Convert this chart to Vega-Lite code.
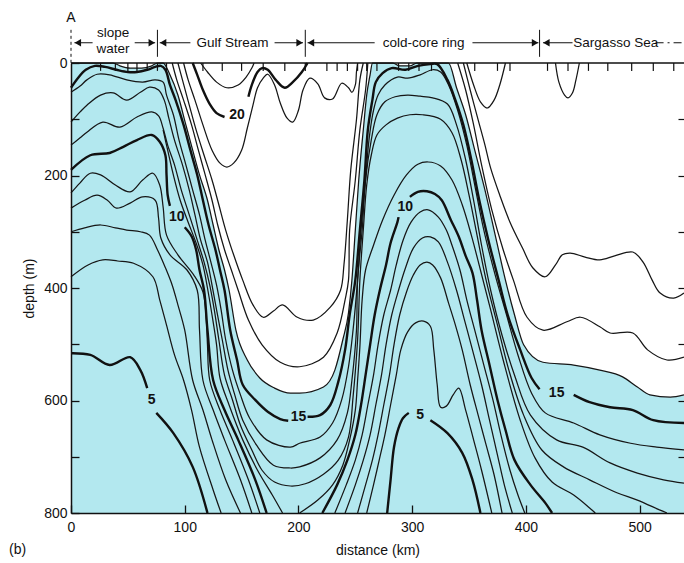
{
"$schema": "https://vega.github.io/schema/vega-lite/v6.json",
"width": 613, "height": 450,
"autosize": {"type": "none"},
"padding": {"left": 71, "top": 63, "right": 0, "bottom": 50},
"background": "white",
"config": {"view": {"stroke": null}, "text": {"font": "Liberation Sans"}, "axis": {"labelFont": "Liberation Sans", "titleFont": "Liberation Sans"}},
"resolve": {"axis": {"x": "independent", "y": "independent"}},
"datasets": {
"shade": [{"d":0,"z":0},{"d":37,"z":0},{"d":43,"z":5},{"d":52,"z":9},{"d":62,"z":9},{"d":71,"z":5},{"d":76,"z":0},{"d":81,"z":0},{"d":87,"z":21},{"d":94,"z":57},{"d":101,"z":110},{"d":107,"z":155},{"d":113,"z":199},{"d":120,"z":244},{"d":125,"z":288},{"d":130,"z":332},{"d":135,"z":368},{"d":139,"z":404},{"d":145,"z":475},{"d":155,"z":528},{"d":166,"z":560},{"d":179,"z":578},{"d":193,"z":587},{"d":201,"z":587},{"d":222,"z":576},{"d":232,"z":546},{"d":239,"z":492},{"d":244,"z":444},{"d":247,"z":386},{"d":250,"z":297},{"d":253,"z":208},{"d":257,"z":119},{"d":260,"z":57},{"d":263,"z":21},{"d":265,"z":0},{"d":283,"z":0},{"d":289,"z":5},{"d":298,"z":5},{"d":304,"z":0},{"d":332,"z":0},{"d":339,"z":44},{"d":347,"z":92},{"d":355,"z":155},{"d":364,"z":226},{"d":373,"z":306},{"d":382,"z":386},{"d":390,"z":448},{"d":398,"z":501},{"d":415,"z":532},{"d":442,"z":537},{"d":465,"z":546},{"d":485,"z":558},{"d":498,"z":576},{"d":509,"z":590},{"d":527,"z":594},{"d":539,"z":590}],
"c": [
{"s":"5a","t":5,"d":0,"z":516},{"s":"5a","t":5,"d":17,"z":519},{"s":"5a","t":5,"d":34,"z":537},{"s":"5a","t":5,"d":52,"z":523},{"s":"5a","t":5,"d":61,"z":546},{"s":"5a","t":5,"d":67,"z":578},
{"s":"5b","t":5,"d":75,"z":622},{"s":"5b","t":5,"d":90,"z":658},{"s":"5b","t":5,"d":107,"z":718},{"s":"5b","t":5,"d":120,"z":800},
{"s":"5c","t":5,"d":278,"z":800},{"s":"5c","t":5,"d":281,"z":741},{"s":"5c","t":5,"d":284,"z":683},{"s":"5c","t":5,"d":288,"z":649},{"s":"5c","t":5,"d":292,"z":631},{"s":"5c","t":5,"d":297,"z":622},
{"s":"5d","t":5,"d":316,"z":635},{"s":"5d","t":5,"d":331,"z":658},{"s":"5d","t":5,"d":344,"z":693},{"s":"5d","t":5,"d":353,"z":741},{"s":"5d","t":5,"d":360,"z":800},
{"s":"6a","t":6,"d":0,"z":380},{"s":"6a","t":6,"d":15,"z":359},{"s":"6a","t":6,"d":28,"z":350},{"s":"6a","t":6,"d":41,"z":352},{"s":"6a","t":6,"d":55,"z":356},{"s":"6a","t":6,"d":72,"z":380},{"s":"6a","t":6,"d":78,"z":421},{"s":"6a","t":6,"d":84,"z":466},{"s":"6a","t":6,"d":91,"z":519},{"s":"6a","t":6,"d":99,"z":564},{"s":"6a","t":6,"d":106,"z":617},{"s":"6a","t":6,"d":113,"z":683},{"s":"6a","t":6,"d":125,"z":759},{"s":"6a","t":6,"d":132,"z":800},
{"s":"6b","t":6,"d":260,"z":800},{"s":"6b","t":6,"d":266,"z":750},{"s":"6b","t":6,"d":271,"z":706},{"s":"6b","t":6,"d":276,"z":661},{"s":"6b","t":6,"d":281,"z":608},{"s":"6b","t":6,"d":286,"z":555},{"s":"6b","t":6,"d":290,"z":510},{"s":"6b","t":6,"d":296,"z":478},{"s":"6b","t":6,"d":303,"z":462},{"s":"6b","t":6,"d":310,"z":459},{"s":"6b","t":6,"d":316,"z":468},{"s":"6b","t":6,"d":319,"z":510},{"s":"6b","t":6,"d":322,"z":572},{"s":"6b","t":6,"d":325,"z":612},{"s":"6b","t":6,"d":330,"z":610},{"s":"6b","t":6,"d":336,"z":590},{"s":"6b","t":6,"d":341,"z":578},{"s":"6b","t":6,"d":347,"z":617},{"s":"6b","t":6,"d":354,"z":670},{"s":"6b","t":6,"d":361,"z":724},{"s":"6b","t":6,"d":370,"z":800},
{"s":"7a","t":7,"d":0,"z":300},{"s":"7a","t":7,"d":12,"z":293},{"s":"7a","t":7,"d":26,"z":288},{"s":"7a","t":7,"d":39,"z":293},{"s":"7a","t":7,"d":49,"z":297},{"s":"7a","t":7,"d":61,"z":300},{"s":"7a","t":7,"d":69,"z":306},{"s":"7a","t":7,"d":76,"z":332},{"s":"7a","t":7,"d":83,"z":364},{"s":"7a","t":7,"d":89,"z":395},{"s":"7a","t":7,"d":94,"z":430},{"s":"7a","t":7,"d":100,"z":475},{"s":"7a","t":7,"d":107,"z":564},{"s":"7a","t":7,"d":116,"z":617},{"s":"7a","t":7,"d":124,"z":670},{"s":"7a","t":7,"d":136,"z":741},{"s":"7a","t":7,"d":149,"z":800},
{"s":"7b","t":7,"d":252,"z":800},{"s":"7b","t":7,"d":259,"z":750},{"s":"7b","t":7,"d":265,"z":706},{"s":"7b","t":7,"d":270,"z":661},{"s":"7b","t":7,"d":275,"z":608},{"s":"7b","t":7,"d":280,"z":555},{"s":"7b","t":7,"d":284,"z":501},{"s":"7b","t":7,"d":289,"z":448},{"s":"7b","t":7,"d":295,"z":407},{"s":"7b","t":7,"d":301,"z":377},{"s":"7b","t":7,"d":307,"z":359},{"s":"7b","t":7,"d":313,"z":354},{"s":"7b","t":7,"d":318,"z":359},{"s":"7b","t":7,"d":325,"z":382},{"s":"7b","t":7,"d":332,"z":427},{"s":"7b","t":7,"d":338,"z":466},{"s":"7b","t":7,"d":344,"z":510},{"s":"7b","t":7,"d":351,"z":572},{"s":"7b","t":7,"d":358,"z":626},{"s":"7b","t":7,"d":365,"z":679},{"s":"7b","t":7,"d":372,"z":732},{"s":"7b","t":7,"d":379,"z":800},
{"s":"8a","t":8,"d":0,"z":258},{"s":"8a","t":8,"d":12,"z":244},{"s":"8a","t":8,"d":23,"z":235},{"s":"8a","t":8,"d":32,"z":244},{"s":"8a","t":8,"d":40,"z":258},{"s":"8a","t":8,"d":52,"z":249},{"s":"8a","t":8,"d":63,"z":238},{"s":"8a","t":8,"d":74,"z":244},{"s":"8a","t":8,"d":77,"z":276},{"s":"8a","t":8,"d":79,"z":311},{"s":"8a","t":8,"d":87,"z":341},{"s":"8a","t":8,"d":102,"z":368},{"s":"8a","t":8,"d":111,"z":404},{"s":"8a","t":8,"d":113,"z":475},{"s":"8a","t":8,"d":116,"z":564},{"s":"8a","t":8,"d":125,"z":617},{"s":"8a","t":8,"d":135,"z":670},{"s":"8a","t":8,"d":149,"z":741},{"s":"8a","t":8,"d":159,"z":800},
{"s":"8b","t":8,"d":241,"z":800},{"s":"8b","t":8,"d":250,"z":750},{"s":"8b","t":8,"d":257,"z":706},{"s":"8b","t":8,"d":263,"z":661},{"s":"8b","t":8,"d":268,"z":608},{"s":"8b","t":8,"d":273,"z":555},{"s":"8b","t":8,"d":277,"z":501},{"s":"8b","t":8,"d":282,"z":448},{"s":"8b","t":8,"d":288,"z":404},{"s":"8b","t":8,"d":294,"z":365},{"s":"8b","t":8,"d":301,"z":329},{"s":"8b","t":8,"d":309,"z":311},{"s":"8b","t":8,"d":316,"z":309},{"s":"8b","t":8,"d":323,"z":318},{"s":"8b","t":8,"d":331,"z":354},{"s":"8b","t":8,"d":339,"z":404},{"s":"8b","t":8,"d":346,"z":457},{"s":"8b","t":8,"d":353,"z":510},{"s":"8b","t":8,"d":361,"z":572},{"s":"8b","t":8,"d":368,"z":635},{"s":"8b","t":8,"d":375,"z":697},{"s":"8b","t":8,"d":381,"z":750},{"s":"8b","t":8,"d":388,"z":800},
{"s":"9a","t":9,"d":0,"z":231},{"s":"9a","t":9,"d":8,"z":213},{"s":"9a","t":9,"d":17,"z":196},{"s":"9a","t":9,"d":26,"z":199},{"s":"9a","t":9,"d":39,"z":217},{"s":"9a","t":9,"d":52,"z":229},{"s":"9a","t":9,"d":63,"z":208},{"s":"9a","t":9,"d":72,"z":196},{"s":"9a","t":9,"d":78,"z":217},{"s":"9a","t":9,"d":81,"z":256},{"s":"9a","t":9,"d":84,"z":306},{"s":"9a","t":9,"d":94,"z":341},{"s":"9a","t":9,"d":108,"z":377},{"s":"9a","t":9,"d":116,"z":407},{"s":"9a","t":9,"d":119,"z":457},{"s":"9a","t":9,"d":120,"z":501},{"s":"9a","t":9,"d":122,"z":564},{"s":"9a","t":9,"d":131,"z":617},{"s":"9a","t":9,"d":142,"z":670},{"s":"9a","t":9,"d":156,"z":741},{"s":"9a","t":9,"d":166,"z":800},
{"s":"9b","t":9,"d":232,"z":800},{"s":"9b","t":9,"d":242,"z":750},{"s":"9b","t":9,"d":250,"z":706},{"s":"9b","t":9,"d":256,"z":661},{"s":"9b","t":9,"d":261,"z":608},{"s":"9b","t":9,"d":266,"z":555},{"s":"9b","t":9,"d":270,"z":501},{"s":"9b","t":9,"d":275,"z":448},{"s":"9b","t":9,"d":281,"z":404},{"s":"9b","t":9,"d":286,"z":359},{"s":"9b","t":9,"d":292,"z":315},{"s":"9b","t":9,"d":299,"z":283},{"s":"9b","t":9,"d":307,"z":265},{"s":"9b","t":9,"d":314,"z":261},{"s":"9b","t":9,"d":323,"z":274},{"s":"9b","t":9,"d":330,"z":297},{"s":"9b","t":9,"d":335,"z":324},{"s":"9b","t":9,"d":342,"z":368},{"s":"9b","t":9,"d":348,"z":421},{"s":"9b","t":9,"d":355,"z":475},{"s":"9b","t":9,"d":363,"z":537},{"s":"9b","t":9,"d":371,"z":599},{"s":"9b","t":9,"d":378,"z":661},{"s":"9b","t":9,"d":386,"z":724},{"s":"9b","t":9,"d":393,"z":768},{"s":"9b","t":9,"d":399,"z":800},
{"s":"10a","t":10,"d":0,"z":190},{"s":"10a","t":10,"d":17,"z":164},{"s":"10a","t":10,"d":34,"z":160},{"s":"10a","t":10,"d":46,"z":149},{"s":"10a","t":10,"d":58,"z":137},{"s":"10a","t":10,"d":71,"z":128},{"s":"10a","t":10,"d":78,"z":140},{"s":"10a","t":10,"d":83,"z":164},{"s":"10a","t":10,"d":84,"z":199},{"s":"10a","t":10,"d":85,"z":235},{"s":"10a","t":10,"d":87,"z":254},
{"s":"10b","t":10,"d":100,"z":292},{"s":"10b","t":10,"d":106,"z":308},{"s":"10b","t":10,"d":110,"z":332},{"s":"10b","t":10,"d":113,"z":368},{"s":"10b","t":10,"d":117,"z":404},{"s":"10b","t":10,"d":120,"z":475},{"s":"10b","t":10,"d":125,"z":564},{"s":"10b","t":10,"d":135,"z":617},{"s":"10b","t":10,"d":147,"z":670},{"s":"10b","t":10,"d":162,"z":741},{"s":"10b","t":10,"d":172,"z":800},
{"s":"10c","t":10,"d":221,"z":800},{"s":"10c","t":10,"d":234,"z":750},{"s":"10c","t":10,"d":243,"z":706},{"s":"10c","t":10,"d":250,"z":661},{"s":"10c","t":10,"d":255,"z":608},{"s":"10c","t":10,"d":259,"z":555},{"s":"10c","t":10,"d":263,"z":501},{"s":"10c","t":10,"d":267,"z":448},{"s":"10c","t":10,"d":272,"z":400},{"s":"10c","t":10,"d":277,"z":359},{"s":"10c","t":10,"d":281,"z":320},{"s":"10c","t":10,"d":287,"z":283},{"s":"10c","t":10,"d":288,"z":274},
{"s":"10d","t":10,"d":298,"z":238},{"s":"10d","t":10,"d":305,"z":229},{"s":"10d","t":10,"d":313,"z":228},{"s":"10d","t":10,"d":320,"z":233},{"s":"10d","t":10,"d":326,"z":244},{"s":"10d","t":10,"d":334,"z":279},{"s":"10d","t":10,"d":341,"z":309},{"s":"10d","t":10,"d":347,"z":343},{"s":"10d","t":10,"d":353,"z":373},{"s":"10d","t":10,"d":357,"z":421},{"s":"10d","t":10,"d":361,"z":475},{"s":"10d","t":10,"d":368,"z":537},{"s":"10d","t":10,"d":375,"z":599},{"s":"10d","t":10,"d":382,"z":652},{"s":"10d","t":10,"d":390,"z":706},{"s":"10d","t":10,"d":404,"z":750},{"s":"10d","t":10,"d":417,"z":782},{"s":"10d","t":10,"d":423,"z":800},
{"s":"11a","t":11,"d":81,"z":119},{"s":"11a","t":11,"d":85,"z":155},{"s":"11a","t":11,"d":90,"z":199},{"s":"11a","t":11,"d":96,"z":244},{"s":"11a","t":11,"d":103,"z":283},{"s":"11a","t":11,"d":110,"z":320},{"s":"11a","t":11,"d":116,"z":359},{"s":"11a","t":11,"d":120,"z":400},{"s":"11a","t":11,"d":124,"z":448},{"s":"11a","t":11,"d":128,"z":501},{"s":"11a","t":11,"d":131,"z":560},{"s":"11a","t":11,"d":139,"z":608},{"s":"11a","t":11,"d":151,"z":670},{"s":"11a","t":11,"d":164,"z":724},{"s":"11a","t":11,"d":177,"z":768},{"s":"11a","t":11,"d":186,"z":800},
{"s":"11b","t":11,"d":201,"z":800},{"s":"11b","t":11,"d":217,"z":777},{"s":"11b","t":11,"d":230,"z":750},{"s":"11b","t":11,"d":239,"z":715},{"s":"11b","t":11,"d":245,"z":670},{"s":"11b","t":11,"d":250,"z":617},{"s":"11b","t":11,"d":252,"z":564},{"s":"11b","t":11,"d":254,"z":505},{"s":"11b","t":11,"d":256,"z":421},{"s":"11b","t":11,"d":259,"z":368},{"s":"11b","t":11,"d":266,"z":324},{"s":"11b","t":11,"d":274,"z":279},{"s":"11b","t":11,"d":284,"z":235},{"s":"11b","t":11,"d":295,"z":199},{"s":"11b","t":11,"d":305,"z":180},{"s":"11b","t":11,"d":314,"z":176},{"s":"11b","t":11,"d":325,"z":183},{"s":"11b","t":11,"d":335,"z":208},{"s":"11b","t":11,"d":344,"z":252},{"s":"11b","t":11,"d":352,"z":306},{"s":"11b","t":11,"d":360,"z":368},{"s":"11b","t":11,"d":369,"z":439},{"s":"11b","t":11,"d":380,"z":528},{"s":"11b","t":11,"d":395,"z":635},{"s":"11b","t":11,"d":408,"z":702},{"s":"11b","t":11,"d":423,"z":745},{"s":"11b","t":11,"d":442,"z":768},{"s":"11b","t":11,"d":456,"z":791},{"s":"11b","t":11,"d":461,"z":800},
{"s":"12","t":12,"d":0,"z":146},{"s":"12","t":12,"d":8,"z":133},{"s":"12","t":12,"d":14,"z":123},{"s":"12","t":12,"d":28,"z":105},{"s":"12","t":12,"d":43,"z":114},{"s":"12","t":12,"d":58,"z":96},{"s":"12","t":12,"d":71,"z":87},{"s":"12","t":12,"d":77,"z":94},{"s":"12","t":12,"d":81,"z":116},{"s":"12","t":12,"d":85,"z":146},{"s":"12","t":12,"d":91,"z":181},{"s":"12","t":12,"d":97,"z":226},{"s":"12","t":12,"d":104,"z":270},{"s":"12","t":12,"d":111,"z":315},{"s":"12","t":12,"d":117,"z":354},{"s":"12","t":12,"d":122,"z":395},{"s":"12","t":12,"d":126,"z":439},{"s":"12","t":12,"d":130,"z":492},{"s":"12","t":12,"d":135,"z":555},{"s":"12","t":12,"d":142,"z":599},{"s":"12","t":12,"d":149,"z":644},{"s":"12","t":12,"d":159,"z":688},{"s":"12","t":12,"d":168,"z":724},{"s":"12","t":12,"d":179,"z":745},{"s":"12","t":12,"d":193,"z":752},{"s":"12","t":12,"d":206,"z":748},{"s":"12","t":12,"d":222,"z":731},{"s":"12","t":12,"d":235,"z":706},{"s":"12","t":12,"d":244,"z":665},{"s":"12","t":12,"d":248,"z":594},{"s":"12","t":12,"d":252,"z":492},{"s":"12","t":12,"d":254,"z":386},{"s":"12","t":12,"d":257,"z":297},{"s":"12","t":12,"d":260,"z":217},{"s":"12","t":12,"d":264,"z":164},{"s":"12","t":12,"d":269,"z":128},{"s":"12","t":12,"d":277,"z":110},{"s":"12","t":12,"d":287,"z":98},{"s":"12","t":12,"d":298,"z":92},{"s":"12","t":12,"d":309,"z":92},{"s":"12","t":12,"d":325,"z":100},{"s":"12","t":12,"d":335,"z":124},{"s":"12","t":12,"d":343,"z":172},{"s":"12","t":12,"d":350,"z":235},{"s":"12","t":12,"d":357,"z":306},{"s":"12","t":12,"d":365,"z":386},{"s":"12","t":12,"d":375,"z":466},{"s":"12","t":12,"d":385,"z":546},{"s":"12","t":12,"d":398,"z":626},{"s":"12","t":12,"d":414,"z":688},{"s":"12","t":12,"d":433,"z":718},{"s":"12","t":12,"d":456,"z":741},{"s":"12","t":12,"d":480,"z":764},{"s":"12","t":12,"d":498,"z":777},{"s":"12","t":12,"d":518,"z":795},{"s":"12","t":12,"d":524,"z":800},
{"s":"13","t":13,"d":0,"z":105},{"s":"13","t":13,"d":8,"z":87},{"s":"13","t":13,"d":14,"z":75},{"s":"13","t":13,"d":26,"z":57},{"s":"13","t":13,"d":37,"z":53},{"s":"13","t":13,"d":49,"z":66},{"s":"13","t":13,"d":61,"z":52},{"s":"13","t":13,"d":69,"z":43},{"s":"13","t":13,"d":77,"z":48},{"s":"13","t":13,"d":82,"z":66},{"s":"13","t":13,"d":86,"z":98},{"s":"13","t":13,"d":91,"z":137},{"s":"13","t":13,"d":98,"z":181},{"s":"13","t":13,"d":104,"z":226},{"s":"13","t":13,"d":109,"z":270},{"s":"13","t":13,"d":114,"z":315},{"s":"13","t":13,"d":120,"z":354},{"s":"13","t":13,"d":124,"z":395},{"s":"13","t":13,"d":128,"z":439},{"s":"13","t":13,"d":133,"z":492},{"s":"13","t":13,"d":138,"z":546},{"s":"13","t":13,"d":144,"z":590},{"s":"13","t":13,"d":151,"z":635},{"s":"13","t":13,"d":163,"z":679},{"s":"13","t":13,"d":178,"z":715},{"s":"13","t":13,"d":193,"z":720},{"s":"13","t":13,"d":201,"z":718},{"s":"13","t":13,"d":219,"z":702},{"s":"13","t":13,"d":234,"z":670},{"s":"13","t":13,"d":243,"z":622},{"s":"13","t":13,"d":247,"z":564},{"s":"13","t":13,"d":251,"z":475},{"s":"13","t":13,"d":252,"z":386},{"s":"13","t":13,"d":256,"z":297},{"s":"13","t":13,"d":259,"z":208},{"s":"13","t":13,"d":264,"z":137},{"s":"13","t":13,"d":269,"z":92},{"s":"13","t":13,"d":276,"z":69},{"s":"13","t":13,"d":285,"z":60},{"s":"13","t":13,"d":296,"z":57},{"s":"13","t":13,"d":307,"z":59},{"s":"13","t":13,"d":318,"z":62},{"s":"13","t":13,"d":331,"z":73},{"s":"13","t":13,"d":339,"z":110},{"s":"13","t":13,"d":347,"z":172},{"s":"13","t":13,"d":354,"z":244},{"s":"13","t":13,"d":361,"z":324},{"s":"13","t":13,"d":369,"z":404},{"s":"13","t":13,"d":379,"z":484},{"s":"13","t":13,"d":390,"z":555},{"s":"13","t":13,"d":404,"z":626},{"s":"13","t":13,"d":427,"z":670},{"s":"13","t":13,"d":450,"z":683},{"s":"13","t":13,"d":474,"z":711},{"s":"13","t":13,"d":498,"z":729},{"s":"13","t":13,"d":521,"z":741},{"s":"13","t":13,"d":539,"z":747},
{"s":"14","t":14,"d":0,"z":52},{"s":"14","t":14,"d":8,"z":41},{"s":"14","t":14,"d":14,"z":30},{"s":"14","t":14,"d":23,"z":20},{"s":"14","t":14,"d":34,"z":21},{"s":"14","t":14,"d":49,"z":30},{"s":"14","t":14,"d":63,"z":34},{"s":"14","t":14,"d":74,"z":30},{"s":"14","t":14,"d":81,"z":34},{"s":"14","t":14,"d":84,"z":57},{"s":"14","t":14,"d":90,"z":92},{"s":"14","t":14,"d":95,"z":137},{"s":"14","t":14,"d":101,"z":181},{"s":"14","t":14,"d":107,"z":226},{"s":"14","t":14,"d":113,"z":270},{"s":"14","t":14,"d":118,"z":315},{"s":"14","t":14,"d":123,"z":354},{"s":"14","t":14,"d":128,"z":395},{"s":"14","t":14,"d":132,"z":439},{"s":"14","t":14,"d":136,"z":492},{"s":"14","t":14,"d":142,"z":546},{"s":"14","t":14,"d":149,"z":590},{"s":"14","t":14,"d":157,"z":631},{"s":"14","t":14,"d":172,"z":670},{"s":"14","t":14,"d":193,"z":683},{"s":"14","t":14,"d":201,"z":676},{"s":"14","t":14,"d":219,"z":665},{"s":"14","t":14,"d":230,"z":640},{"s":"14","t":14,"d":238,"z":599},{"s":"14","t":14,"d":244,"z":540},{"s":"14","t":14,"d":248,"z":475},{"s":"14","t":14,"d":252,"z":386},{"s":"14","t":14,"d":255,"z":297},{"s":"14","t":14,"d":259,"z":208},{"s":"14","t":14,"d":262,"z":137},{"s":"14","t":14,"d":266,"z":84},{"s":"14","t":14,"d":270,"z":57},{"s":"14","t":14,"d":276,"z":39},{"s":"14","t":14,"d":287,"z":25},{"s":"14","t":14,"d":296,"z":27},{"s":"14","t":14,"d":307,"z":21},{"s":"14","t":14,"d":318,"z":12},{"s":"14","t":14,"d":325,"z":16},{"s":"14","t":14,"d":332,"z":39},{"s":"14","t":14,"d":340,"z":84},{"s":"14","t":14,"d":348,"z":146},{"s":"14","t":14,"d":355,"z":217},{"s":"14","t":14,"d":363,"z":297},{"s":"14","t":14,"d":373,"z":377},{"s":"14","t":14,"d":383,"z":448},{"s":"14","t":14,"d":393,"z":519},{"s":"14","t":14,"d":405,"z":587},{"s":"14","t":14,"d":417,"z":622},{"s":"14","t":14,"d":442,"z":640},{"s":"14","t":14,"d":465,"z":661},{"s":"14","t":14,"d":492,"z":676},{"s":"14","t":14,"d":515,"z":683},{"s":"14","t":14,"d":539,"z":688},
{"s":"15a","t":15,"d":0,"z":44},{"s":"15a","t":15,"d":6,"z":27},{"s":"15a","t":15,"d":13,"z":12},{"s":"15a","t":15,"d":21,"z":5},{"s":"15a","t":15,"d":30,"z":7},{"s":"15a","t":15,"d":40,"z":12},{"s":"15a","t":15,"d":50,"z":16},{"s":"15a","t":15,"d":58,"z":16},{"s":"15a","t":15,"d":67,"z":12},{"s":"15a","t":15,"d":74,"z":7},{"s":"15a","t":15,"d":79,"z":5},{"s":"15a","t":15,"d":83,"z":12},{"s":"15a","t":15,"d":87,"z":39},{"s":"15a","t":15,"d":92,"z":66},{"s":"15a","t":15,"d":99,"z":110},{"s":"15a","t":15,"d":105,"z":155},{"s":"15a","t":15,"d":111,"z":199},{"s":"15a","t":15,"d":116,"z":244},{"s":"15a","t":15,"d":121,"z":288},{"s":"15a","t":15,"d":127,"z":332},{"s":"15a","t":15,"d":131,"z":368},{"s":"15a","t":15,"d":135,"z":404},{"s":"15a","t":15,"d":140,"z":475},{"s":"15a","t":15,"d":146,"z":528},{"s":"15a","t":15,"d":151,"z":572},{"s":"15a","t":15,"d":162,"z":599},{"s":"15a","t":15,"d":173,"z":620},{"s":"15a","t":15,"d":184,"z":633},{"s":"15a","t":15,"d":191,"z":636},
{"s":"15b","t":15,"d":208,"z":629},{"s":"15b","t":15,"d":219,"z":626},{"s":"15b","t":15,"d":228,"z":608},{"s":"15b","t":15,"d":235,"z":567},{"s":"15b","t":15,"d":241,"z":510},{"s":"15b","t":15,"d":245,"z":448},{"s":"15b","t":15,"d":250,"z":386},{"s":"15b","t":15,"d":254,"z":297},{"s":"15b","t":15,"d":258,"z":208},{"s":"15b","t":15,"d":261,"z":119},{"s":"15b","t":15,"d":265,"z":66},{"s":"15b","t":15,"d":268,"z":34},{"s":"15b","t":15,"d":274,"z":18},{"s":"15b","t":15,"d":282,"z":9},{"s":"15b","t":15,"d":294,"z":12},{"s":"15b","t":15,"d":305,"z":5},{"s":"15b","t":15,"d":316,"z":2},{"s":"15b","t":15,"d":322,"z":2},{"s":"15b","t":15,"d":331,"z":30},{"s":"15b","t":15,"d":338,"z":66},{"s":"15b","t":15,"d":345,"z":110},{"s":"15b","t":15,"d":352,"z":172},{"s":"15b","t":15,"d":359,"z":244},{"s":"15b","t":15,"d":367,"z":315},{"s":"15b","t":15,"d":376,"z":386},{"s":"15b","t":15,"d":384,"z":448},{"s":"15b","t":15,"d":395,"z":510},{"s":"15b","t":15,"d":405,"z":560},{"s":"15b","t":15,"d":412,"z":580},
{"s":"15c","t":15,"d":442,"z":590},{"s":"15c","t":15,"d":456,"z":603},{"s":"15c","t":15,"d":474,"z":612},{"s":"15c","t":15,"d":494,"z":617},{"s":"15c","t":15,"d":512,"z":635},{"s":"15c","t":15,"d":539,"z":640},
{"s":"17a","t":17,"d":89,"z":0},{"s":"17a","t":17,"d":93,"z":30},{"s":"17a","t":17,"d":99,"z":66},{"s":"17a","t":17,"d":106,"z":110},{"s":"17a","t":17,"d":112,"z":155},{"s":"17a","t":17,"d":118,"z":199},{"s":"17a","t":17,"d":124,"z":244},{"s":"17a","t":17,"d":129,"z":288},{"s":"17a","t":17,"d":135,"z":332},{"s":"17a","t":17,"d":141,"z":368},{"s":"17a","t":17,"d":147,"z":404},{"s":"17a","t":17,"d":156,"z":457},{"s":"17a","t":17,"d":168,"z":501},{"s":"17a","t":17,"d":184,"z":532},{"s":"17a","t":17,"d":201,"z":540},{"s":"17a","t":17,"d":222,"z":523},{"s":"17a","t":17,"d":234,"z":480},{"s":"17a","t":17,"d":241,"z":421},{"s":"17a","t":17,"d":244,"z":386},{"s":"17a","t":17,"d":245,"z":297},{"s":"17a","t":17,"d":250,"z":208},{"s":"17a","t":17,"d":254,"z":119},{"s":"17a","t":17,"d":259,"z":48},{"s":"17a","t":17,"d":261,"z":0},
{"s":"17b","t":17,"d":340,"z":0},{"s":"17b","t":17,"d":347,"z":48},{"s":"17b","t":17,"d":354,"z":110},{"s":"17b","t":17,"d":361,"z":181},{"s":"17b","t":17,"d":370,"z":261},{"s":"17b","t":17,"d":380,"z":332},{"s":"17b","t":17,"d":389,"z":386},{"s":"17b","t":17,"d":401,"z":452},{"s":"17b","t":17,"d":415,"z":475},{"s":"17b","t":17,"d":436,"z":460},{"s":"17b","t":17,"d":448,"z":452},{"s":"17b","t":17,"d":465,"z":469},{"s":"17b","t":17,"d":474,"z":480},{"s":"17b","t":17,"d":494,"z":480},{"s":"17b","t":17,"d":507,"z":510},{"s":"17b","t":17,"d":524,"z":528},{"s":"17b","t":17,"d":539,"z":523},
{"s":"18a","t":18,"d":94,"z":0},{"s":"18a","t":18,"d":98,"z":30},{"s":"18a","t":18,"d":104,"z":75},{"s":"18a","t":18,"d":110,"z":119},{"s":"18a","t":18,"d":117,"z":164},{"s":"18a","t":18,"d":124,"z":208},{"s":"18a","t":18,"d":130,"z":252},{"s":"18a","t":18,"d":136,"z":297},{"s":"18a","t":18,"d":143,"z":341},{"s":"18a","t":18,"d":151,"z":386},{"s":"18a","t":18,"d":160,"z":430},{"s":"18a","t":18,"d":169,"z":452},{"s":"18a","t":18,"d":178,"z":441},{"s":"18a","t":18,"d":186,"z":430},{"s":"18a","t":18,"d":199,"z":452},{"s":"18a","t":18,"d":213,"z":457},{"s":"18a","t":18,"d":228,"z":434},{"s":"18a","t":18,"d":237,"z":404},{"s":"18a","t":18,"d":240,"z":359},{"s":"18a","t":18,"d":243,"z":279},{"s":"18a","t":18,"d":246,"z":190},{"s":"18a","t":18,"d":251,"z":101},{"s":"18a","t":18,"d":254,"z":30},{"s":"18a","t":18,"d":257,"z":0},
{"s":"18b","t":18,"d":345,"z":0},{"s":"18b","t":18,"d":351,"z":48},{"s":"18b","t":18,"d":358,"z":101},{"s":"18b","t":18,"d":364,"z":146},{"s":"18b","t":18,"d":369,"z":187},{"s":"18b","t":18,"d":377,"z":235},{"s":"18b","t":18,"d":386,"z":283},{"s":"18b","t":18,"d":397,"z":329},{"s":"18b","t":18,"d":406,"z":364},{"s":"18b","t":18,"d":417,"z":380},{"s":"18b","t":18,"d":426,"z":359},{"s":"18b","t":18,"d":432,"z":341},{"s":"18b","t":18,"d":439,"z":338},{"s":"18b","t":18,"d":452,"z":345},{"s":"18b","t":18,"d":465,"z":350},{"s":"18b","t":18,"d":478,"z":343},{"s":"18b","t":18,"d":494,"z":336},{"s":"18b","t":18,"d":503,"z":354},{"s":"18b","t":18,"d":511,"z":386},{"s":"18b","t":18,"d":518,"z":409},{"s":"18b","t":18,"d":530,"z":418},{"s":"18b","t":18,"d":539,"z":409},
{"s":"19a","t":19,"d":99,"z":0},{"s":"19a","t":19,"d":103,"z":30},{"s":"19a","t":19,"d":109,"z":66},{"s":"19a","t":19,"d":116,"z":110},{"s":"19a","t":19,"d":124,"z":155},{"s":"19a","t":19,"d":131,"z":178},{"s":"19a","t":19,"d":137,"z":185},{"s":"19a","t":19,"d":143,"z":178},{"s":"19a","t":19,"d":150,"z":155},{"s":"19a","t":19,"d":155,"z":116},{"s":"19a","t":19,"d":160,"z":75},{"s":"19a","t":19,"d":164,"z":44},{"s":"19a","t":19,"d":169,"z":27},{"s":"19a","t":19,"d":173,"z":20},{"s":"19a","t":19,"d":179,"z":39},{"s":"19a","t":19,"d":184,"z":71},{"s":"19a","t":19,"d":190,"z":98},{"s":"19a","t":19,"d":195,"z":105},{"s":"19a","t":19,"d":200,"z":84},{"s":"19a","t":19,"d":204,"z":48},{"s":"19a","t":19,"d":210,"z":27},{"s":"19a","t":19,"d":217,"z":37},{"s":"19a","t":19,"d":223,"z":62},{"s":"19a","t":19,"d":230,"z":64},{"s":"19a","t":19,"d":238,"z":36},{"s":"19a","t":19,"d":244,"z":44},{"s":"19a","t":19,"d":247,"z":52},{"s":"19a","t":19,"d":250,"z":39},{"s":"19a","t":19,"d":251,"z":16},{"s":"19a","t":19,"d":252,"z":0},
{"s":"19b","t":19,"d":348,"z":0},{"s":"19b","t":19,"d":354,"z":39},{"s":"19b","t":19,"d":360,"z":69},{"s":"19b","t":19,"d":366,"z":80},{"s":"19b","t":19,"d":372,"z":66},{"s":"19b","t":19,"d":377,"z":39},{"s":"19b","t":19,"d":382,"z":0},
{"s":"19c","t":19,"d":426,"z":0},{"s":"19c","t":19,"d":429,"z":34},{"s":"19c","t":19,"d":434,"z":57},{"s":"19c","t":19,"d":437,"z":62},{"s":"19c","t":19,"d":441,"z":53},{"s":"19c","t":19,"d":444,"z":30},{"s":"19c","t":19,"d":447,"z":0},
{"s":"20a","t":20,"d":107,"z":0},{"s":"20a","t":20,"d":111,"z":21},{"s":"20a","t":20,"d":116,"z":48},{"s":"20a","t":20,"d":122,"z":73},{"s":"20a","t":20,"d":128,"z":89},{"s":"20a","t":20,"d":135,"z":96},
{"s":"20b","t":20,"d":156,"z":60},{"s":"20b","t":20,"d":159,"z":39},{"s":"20b","t":20,"d":164,"z":16},{"s":"20b","t":20,"d":168,"z":9},{"s":"20b","t":20,"d":173,"z":12},{"s":"20b","t":20,"d":180,"z":30},{"s":"20b","t":20,"d":188,"z":44},{"s":"20b","t":20,"d":195,"z":34},{"s":"20b","t":20,"d":203,"z":16},{"s":"20b","t":20,"d":208,"z":0},
{"s":"21","t":21,"d":114,"z":0},{"s":"21","t":21,"d":120,"z":16},{"s":"21","t":21,"d":128,"z":34},{"s":"21","t":21,"d":137,"z":44},{"s":"21","t":21,"d":147,"z":39},{"s":"21","t":21,"d":154,"z":25},{"s":"21","t":21,"d":159,"z":9},{"s":"21","t":21,"d":161,"z":0}
],
"lab": [{"txt":"20","d":146,"z":92},{"txt":"10","d":93,"z":274},{"txt":"10","d":294,"z":256},{"txt":"15","d":200,"z":630},{"txt":"15","d":427,"z":587},{"txt":"5","d":71,"z":599},{"txt":"5","d":307,"z":625}],
"st": [{"d":26},{"d":39},{"d":50},{"d":58},{"d":67},{"d":76},{"d":84},{"d":116},{"d":133},{"d":150},{"d":169},{"d":188},{"d":206},{"d":225},{"d":234},{"d":243},{"d":252},{"d":260},{"d":269},{"d":288},{"d":297},{"d":306},{"d":317},{"d":355},{"d":375},{"d":386},{"d":419},{"d":437},{"d":455},{"d":472},{"d":493},{"d":512},{"d":530}],
"reg": [{"txt":"slope","d":37,"z":-53},{"txt":"water","d":37,"z":-25},{"txt":"Gulf Stream","d":142,"z":-36},{"txt":"cold-core ring","d":310,"z":-36},{"txt":"Sargasso Sea","d":479,"z":-36}],
"arr": [{"a":3,"b":19,"dir":"l"},{"a":56,"b":74,"dir":"r"},{"a":78,"b":105,"dir":"l"},{"a":179,"b":204,"dir":"r"},{"a":208,"b":267,"dir":"l"},{"a":353,"b":411,"dir":"r"},{"a":415,"b":441,"dir":"l"}],
"bnd": [{"d":76},{"d":206},{"d":412}]
},
"layer": [
{"data": {"name": "shade"},
 "mark": {"type": "area", "color": "#b3e8ef", "opacity": 1, "fillOpacity": 1, "interpolate": "monotone", "line": {"color": "#161616", "strokeWidth": 1.25}},
 "encoding": {
  "x": {"field": "d", "type": "quantitative", "scale": {"domain": [0, 539], "nice": false, "zero": false},
        "axis": {"orient": "bottom", "zindex": 1, "labels": true, "ticks": true, "domain": true, "values": [0,100,200,300,400,500], "tickSize": -8, "labelPadding": 15, "labelBaseline": "top", "labelAlign": "center", "domainColor": "#111", "domainWidth": 1.5, "tickColor": "#111", "tickWidth": 1.3, "labelFontSize": 14, "labelColor": "#111", "labelOverlap": false, "labelFlush": false, "title": "distance (km)", "titleFontSize": 14, "titleFontWeight": "normal", "titleColor": "#111", "titlePadding": 9, "grid": false}},
  "y": {"field": "z", "type": "quantitative", "scale": {"domain": [0, 800], "reverse": true, "nice": false, "zero": false},
        "axis": {"orient": "left", "zindex": 1, "values": [0,100,200,300,400,500,600,700,800], "labelExpr": "datum.value % 200 == 0 ? datum.label : ''", "tickSize": -8, "labelPadding": 12, "domainColor": "#111", "domainWidth": 1.5, "tickColor": "#111", "tickWidth": 1.3, "labelFontSize": 14, "labelColor": "#111", "labelOverlap": false, "labelFlush": false, "title": "depth (m)", "titleFontSize": 14, "titleFontWeight": "normal", "titleColor": "#111", "titlePadding": 7, "grid": false}},
  "y2": {"datum": 800}
 }},
{"data": {"name": "c"},
 "transform": [{"filter": "datum.t % 5 != 0"}],
 "mark": {"type": "line", "interpolate": "catmull-rom", "color": "#161616", "strokeWidth": 1.25},
 "encoding": {
  "x": {"field": "d", "type": "quantitative", "scale": {"domain": [0, 539], "nice": false, "zero": false}, "axis": null},
  "y": {"field": "z", "type": "quantitative", "scale": {"domain": [0, 800], "reverse": true, "nice": false, "zero": false}, "axis": null},
  "detail": {"field": "s"},
  "order": {"value": null}
 }},
{"data": {"name": "c"},
 "transform": [{"filter": "datum.t % 5 == 0"}],
 "mark": {"type": "line", "interpolate": "catmull-rom", "color": "#111", "strokeWidth": 2.4},
 "encoding": {
  "x": {"field": "d", "type": "quantitative", "scale": {"domain": [0, 539], "nice": false, "zero": false}, "axis": null},
  "y": {"field": "z", "type": "quantitative", "scale": {"domain": [0, 800], "reverse": true, "nice": false, "zero": false}, "axis": null},
  "detail": {"field": "s"},
  "order": {"value": null}
 }},
{"data": {"name": "lab"},
 "mark": {"type": "text", "font": "Liberation Sans", "fontWeight": "bold", "fontSize": 14, "color": "#111"},
 "encoding": {
  "x": {"field": "d", "type": "quantitative", "scale": {"domain": [0, 539], "nice": false, "zero": false}, "axis": null},
  "y": {"field": "z", "type": "quantitative", "scale": {"domain": [0, 800], "reverse": true, "nice": false, "zero": false}, "axis": null},
  "text": {"field": "txt"}
 }},
{"data": {"name": "st"},
 "mark": {"type": "rule", "color": "#111", "strokeWidth": 1.2},
 "encoding": {
  "x": {"field": "d", "type": "quantitative", "scale": {"domain": [0, 539], "nice": false, "zero": false}, "axis": null},
  "y": {"datum": 0, "type": "quantitative", "scale": {"domain": [0, 800], "reverse": true, "nice": false, "zero": false}, "axis": null},
  "y2": {"datum": 14}
 }},
{"data": {"values": [{}]},
 "mark": {"type": "rule", "color": "#111", "strokeWidth": 1.6},
 "encoding": {
  "y": {"datum": 0, "type": "quantitative", "scale": {"domain": [0, 800], "reverse": true, "nice": false, "zero": false},
        "axis": {"orient": "right", "zindex": 1, "values": [100,200,300,400,500,600,700], "labels": false, "domain": false, "tickSize": -6, "tickColor": "#111", "tickWidth": 1.2, "title": null, "grid": false}}
 }},
{"data": {"name": "reg"},
 "mark": {"type": "text", "font": "Liberation Sans", "fontSize": 13.5, "color": "#111"},
 "encoding": {
  "x": {"field": "d", "type": "quantitative", "scale": {"domain": [0, 539], "nice": false, "zero": false}, "axis": null},
  "y": {"field": "z", "type": "quantitative", "scale": {"domain": [0, 800], "reverse": true, "nice": false, "zero": false}, "axis": null},
  "text": {"field": "txt"}
 }},
{"data": {"name": "arr"},
 "mark": {"type": "rule", "color": "#111", "strokeWidth": 1},
 "encoding": {
  "x": {"field": "a", "type": "quantitative", "scale": {"domain": [0, 539], "nice": false, "zero": false}, "axis": null},
  "x2": {"field": "b"},
  "y": {"datum": -36, "type": "quantitative", "scale": {"domain": [0, 800], "reverse": true, "nice": false, "zero": false}, "axis": null}
 }},
{"data": {"name": "arr"},
 "transform": [{"calculate": "datum.dir == 'l' ? datum.a + 3 : datum.b - 3", "as": "tip"}],
 "mark": {"type": "point", "filled": true, "color": "#111", "size": 55, "opacity": 1},
 "encoding": {
  "x": {"field": "tip", "type": "quantitative", "scale": {"domain": [0, 539], "nice": false, "zero": false}, "axis": null},
  "y": {"datum": -36, "type": "quantitative", "scale": {"domain": [0, 800], "reverse": true, "nice": false, "zero": false}, "axis": null},
  "shape": {"field": "dir", "type": "nominal", "scale": {"domain": ["l", "r"], "range": ["triangle-left", "triangle-right"]}, "legend": null}
 }},
{"data": {"name": "bnd"},
 "mark": {"type": "rule", "color": "#111", "strokeWidth": 1},
 "encoding": {
  "x": {"field": "d", "type": "quantitative", "scale": {"domain": [0, 539], "nice": false, "zero": false}, "axis": null},
  "y": {"datum": -59, "type": "quantitative", "scale": {"domain": [0, 800], "reverse": true, "nice": false, "zero": false}, "axis": null},
  "y2": {"datum": -11}
 }},
{"data": {"values": [{}]},
 "mark": {"type": "rule", "color": "#111", "strokeWidth": 1, "strokeDash": [3, 3]},
 "encoding": {
  "x": {"datum": 0, "type": "quantitative", "scale": {"domain": [0, 539], "nice": false, "zero": false}, "axis": null},
  "y": {"datum": -59, "type": "quantitative", "scale": {"domain": [0, 800], "reverse": true, "nice": false, "zero": false}, "axis": null},
  "y2": {"datum": 0}
 }},
{"data": {"values": [{}]},
 "mark": {"type": "rule", "color": "#111", "strokeWidth": 1, "strokeDash": [8, 4, 2, 4]},
 "encoding": {
  "x": {"datum": 514, "type": "quantitative", "scale": {"domain": [0, 539], "nice": false, "zero": false}, "axis": null},
  "x2": {"datum": 539},
  "y": {"datum": -36, "type": "quantitative", "scale": {"domain": [0, 800], "reverse": true, "nice": false, "zero": false}, "axis": null}
 }},
{"data": {"values": [{"txt": "A", "d": 0, "z": -80}, {"txt": "(b)", "d": -47, "z": 866}]},
 "mark": {"type": "text", "font": "Liberation Sans", "fontSize": 14, "color": "#111"},
 "encoding": {
  "x": {"field": "d", "type": "quantitative", "scale": {"domain": [0, 539], "nice": false, "zero": false}, "axis": null},
  "y": {"field": "z", "type": "quantitative", "scale": {"domain": [0, 800], "reverse": true, "nice": false, "zero": false}, "axis": null},
  "text": {"field": "txt"}
 }}
]
}
